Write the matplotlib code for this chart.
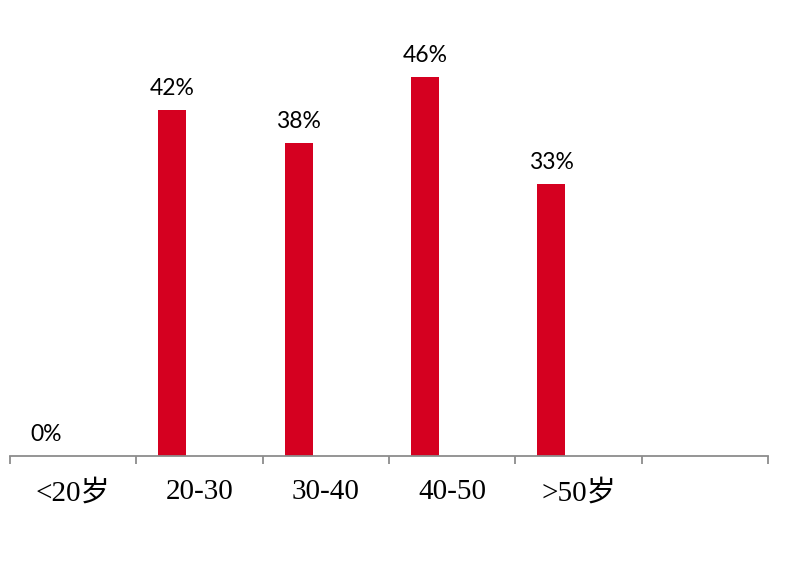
import matplotlib.pyplot as plt

# chart data
categories = ["<20岁", "20-30", "30-40", "40-50", ">50岁", ""]
values = [0, 42, 38, 46, 33]
value_labels = ["0%", "42%", "38%", "46%", "33%"]

BAR_COLOR = "#D50020"
AXIS_COLOR = "#8C8C8C"

fig = plt.figure(figsize=(7.86, 5.67), dpi=100)
ax = fig.add_axes([0.0127, 0.196, 0.9644, 0.804])

# bars sit left of the slot centre, like the original Excel chart
offset = -0.215
xs = [i + offset for i in range(len(values))]
bars = ax.bar(xs, values, width=0.22, color=BAR_COLOR)

for bar, text in zip(bars, value_labels):
    ax.annotate(text, (bar.get_x() + bar.get_width() / 2, bar.get_height()),
                xytext=(0, 8), textcoords="offset points",
                ha="center", va="bottom", fontsize=16.5, family="Lato", color="black")

ax.set_xlim(-0.5, len(categories) - 0.5)
ax.set_ylim(0, 55.3)

# boundary ticks (major) and centred labels (minor)
ax.set_xticks([i - 0.5 for i in range(len(categories) + 1)])
ax.set_xticklabels([])
ax.set_xticks(range(len(categories)), minor=True)
ax.set_xticklabels(categories, minor=True, fontsize=21,
                   family=["Liberation Serif", "Noto Sans CJK SC"])
ax.tick_params(axis="x", which="major", length=6, width=1.3, color=AXIS_COLOR, direction="out")
ax.tick_params(axis="x", which="minor", length=0, pad=17)
ax.set_yticks([])

for side in ["top", "right", "left"]:
    ax.spines[side].set_visible(False)
ax.spines["bottom"].set_color(AXIS_COLOR)
ax.spines["bottom"].set_linewidth(1.3)

fig.savefig("out.png", dpi=100)
